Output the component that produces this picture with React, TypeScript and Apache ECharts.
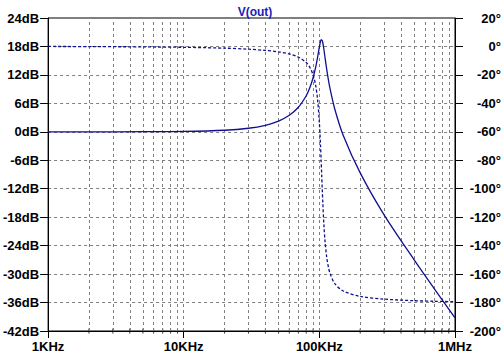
import React, { useEffect, useRef } from "react";
import * as echarts from "echarts";

// Frequencies (Hz) and values
const freqs = [1000, 2000, 5000, 10000, 20000, 30000, 40000, 50000, 60000, 70000, 80000, 85000, 90000, 94000, 97000, 100000, 102000, 103000, 104000, 105000, 106000, 108000, 110000, 113000, 116000, 120000, 130000, 150000, 200000, 300000, 500000, 700000, 1000000];
const magDb = [0, 0, 0.02, 0.08, 0.33, 0.75, 1.38, 2.26, 3.48, 5.17, 7.61, 9.29, 11.46, 13.69, 15.72, 17.92, 19.09, 19.41, 19.46, 19.24, 18.77, 17.36, 15.73, 13.38, 11.33, 9.04, 4.76, -0.76, -8.65, -17.5, -27.0, -33.0, -39.25];
const phaseDeg = [0, -0.1, -0.3, -0.6, -1.2, -1.9, -2.8, -3.8, -5.3, -7.5, -11.3, -14.7, -20.1, -27.7, -37.3, -53.6, -70.0, -79.7, -90, -100.2, -109.7, -125.4, -136.5, -147.4, -154.1, -159.7, -166.7, -171.9, -175.7, -177.6, -178.7, -179.1, -179.4];

const xTickValues = [1000, 10000, 100000, 1000000];
const xTickLabels = ["1KHz", "10KHz", "100KHz", "1MHz"];
const gridFreqs = [2000, 3000, 4000, 5000, 6000, 7000, 8000, 9000, 10000, 20000, 30000, 40000, 50000, 60000, 70000, 80000, 90000, 100000, 200000, 300000, 400000, 500000, 600000, 700000, 800000, 900000];

const LINE = "#10108f";
const FONT = "'Liberation Sans', Arial, sans-serif";

export default function App() {
  const ref = useRef<HTMLDivElement>(null);
  useEffect(() => {
    if (!ref.current) return;
    const chart = echarts.init(ref.current, null, { renderer: "svg" });
    const labelStyle = { color: "#000", fontFamily: FONT, fontWeight: "bold" as const, fontSize: 13 };
    chart.setOption({
      animation: false,
      backgroundColor: "#fff",
      title: {
        text: "V(out)",
        left: 250,
        textAlign: "center",
        top: 1,
        textStyle: { color: "#2020b8", fontFamily: FONT, fontWeight: "bold", fontSize: 12 },
      },
      grid: { left: 46, right: 49, top: 18, bottom: 26, show: true, borderColor: "#000", borderWidth: 1, backgroundColor: "transparent" },
      xAxis: {
        type: "log",
        logBase: 10,
        min: 1000,
        max: 1000000,
        axisLine: { show: true, onZero: false, lineStyle: { color: "#000", width: 1 } },
        axisTick: { show: true, length: 7, lineStyle: { color: "#000" } },
        splitLine: { show: false },
        minorTick: { show: false },
        axisLabel: {
          ...labelStyle,
          margin: 9,
          formatter: (v: number) => {
            const i = xTickValues.findIndex((t) => Math.abs(t - v) / t < 1e-6);
            return i >= 0 ? xTickLabels[i] : "";
          },
        },
      },
      yAxis: [
        {
          type: "value",
          min: -42,
          max: 24,
          interval: 6,
          position: "left",
          axisLine: { show: true, lineStyle: { color: "#000" } },
          axisTick: { show: true, length: 8, lineStyle: { color: "#000" } },
          splitLine: { show: true, lineStyle: { color: "#808080", type: [3, 3], width: 1 } },
          axisLabel: { ...labelStyle, margin: 9, formatter: (v: number) => `${v}dB` },
        },
        {
          type: "value",
          min: -200,
          max: 20,
          interval: 20,
          position: "right",
          axisLine: { show: true, lineStyle: { color: "#000" } },
          axisTick: { show: true, length: 8, lineStyle: { color: "#000" } },
          splitLine: { show: false },
          axisLabel: { ...labelStyle, margin: 46, align: "right", formatter: (v: number) => `${v}°` },
        },
      ],
      series: [
        {
          type: "line",
          name: "grid",
          yAxisIndex: 0,
          data: [],
          z: 1,
          silent: true,
          markLine: {
            silent: true,
            symbol: ["none", "none"],
            label: { show: false },
            lineStyle: { color: "#808080", type: [3, 3], width: 1 },
            data: gridFreqs.map((f) => ({ xAxis: f })),
          },
        },
        {
          type: "scatter",
          name: "minorTicks",
          yAxisIndex: 0,
          symbol: "rect",
          symbolSize: [1, 5],
          itemStyle: { color: "#000" },
          silent: true,
          z: 3,
          data: gridFreqs.filter((f) => xTickValues.indexOf(f) < 0).map((f) => [f, -42]),
        },
        {
          type: "line",
          name: "mag",
          yAxisIndex: 0,
          showSymbol: false,
          smooth: 0.3,
          lineStyle: { color: LINE, width: 1.3 },
          itemStyle: { color: LINE },
          z: 5,
          data: freqs.map((f, i) => [f, magDb[i]]),
        },
        {
          type: "line",
          name: "phase",
          yAxisIndex: 1,
          showSymbol: false,
          smooth: 0.3,
          lineStyle: { color: LINE, width: 1.3, type: [3, 2] },
          itemStyle: { color: LINE },
          z: 5,
          data: freqs.map((f, i) => [f, phaseDeg[i]]),
        },
      ],
    });
    return () => chart.dispose();
  }, []);
  return <div ref={ref} style={{ position: "fixed", left: 0, top: 0, width: 504, height: 357 }} />;
}
